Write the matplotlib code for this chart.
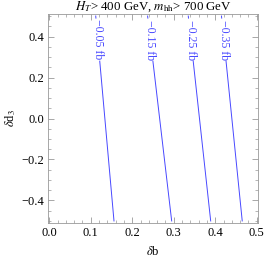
import matplotlib
matplotlib.use("Agg")
import matplotlib.pyplot as plt
import numpy as np
from matplotlib.ticker import MultipleLocator, FuncFormatter

plt.rcParams['font.family'] = ['Liberation Serif', 'DejaVu Serif']
plt.rcParams['mathtext.fontset'] = 'stix'

labels = ["\u22120.05 fb", "\u22120.15 fb", "\u22120.25 fb", "\u22120.35 fb"]
x_top = [0.112, 0.237, 0.335, 0.415]     # x at y=0.5
x_bot = [0.156, 0.295, 0.389, 0.465]     # x at y=-0.5
y_top, y_bot = 0.5, -0.5
label_y = 0.385
label_half = 0.105

fig = plt.figure(figsize=(2.66, 2.61), dpi=100)
ax = fig.add_axes([48/266, 38/261, 210/266, 209/261])
col = '#4848ff'
for lab, xt, xb in zip(labels, x_top, x_bot):
    def xat(y):
        return xb + (xt - xb) * (y - y_bot) / (y_top - y_bot)
    y1 = label_y + label_half
    y2 = label_y - label_half
    ax.plot([xat(y_top), xat(y1)], [y_top, y1], color=col, lw=0.7)
    ax.plot([xat(y2), xat(y_bot)], [y2, y_bot], color=col, lw=0.7)
    ax.text(xat(label_y), label_y, lab, rotation=-90, ha='center', va='center',
            color=col, fontsize=8.5, rotation_mode='anchor')

ax.set_xlim(-0.003, 0.503)
ax.set_ylim(-0.51, 0.51)
ax.xaxis.set_major_locator(MultipleLocator(0.1))
ax.xaxis.set_minor_locator(MultipleLocator(0.02))
ax.yaxis.set_major_locator(MultipleLocator(0.2))
ax.yaxis.set_minor_locator(MultipleLocator(0.05))
ax.tick_params(which='both', direction='in', top=True, right=True, color='#999999',
               labelsize=9, pad=3)
ax.tick_params(which='major', length=4, width=0.6)
ax.tick_params(which='minor', length=2, width=0.5)
fmt = FuncFormatter(lambda v, p: f"{v:.1f}".replace('-', '\u2212'))
ax.xaxis.set_major_formatter(fmt)
ax.yaxis.set_major_formatter(fmt)
for s in ax.spines.values():
    s.set_color('#999999')
    s.set_linewidth(0.6)
ax.set_xlabel(r"$\delta$b", fontsize=9, labelpad=4)
ax.set_ylabel(r"$\delta$d$_3$", fontsize=9, labelpad=2)
ax.set_title(r"$H_T$> 400 GeV, $m_{\rm hh}$> 700 GeV", fontsize=9.3, pad=1)
fig.savefig("out.png", dpi=100)
